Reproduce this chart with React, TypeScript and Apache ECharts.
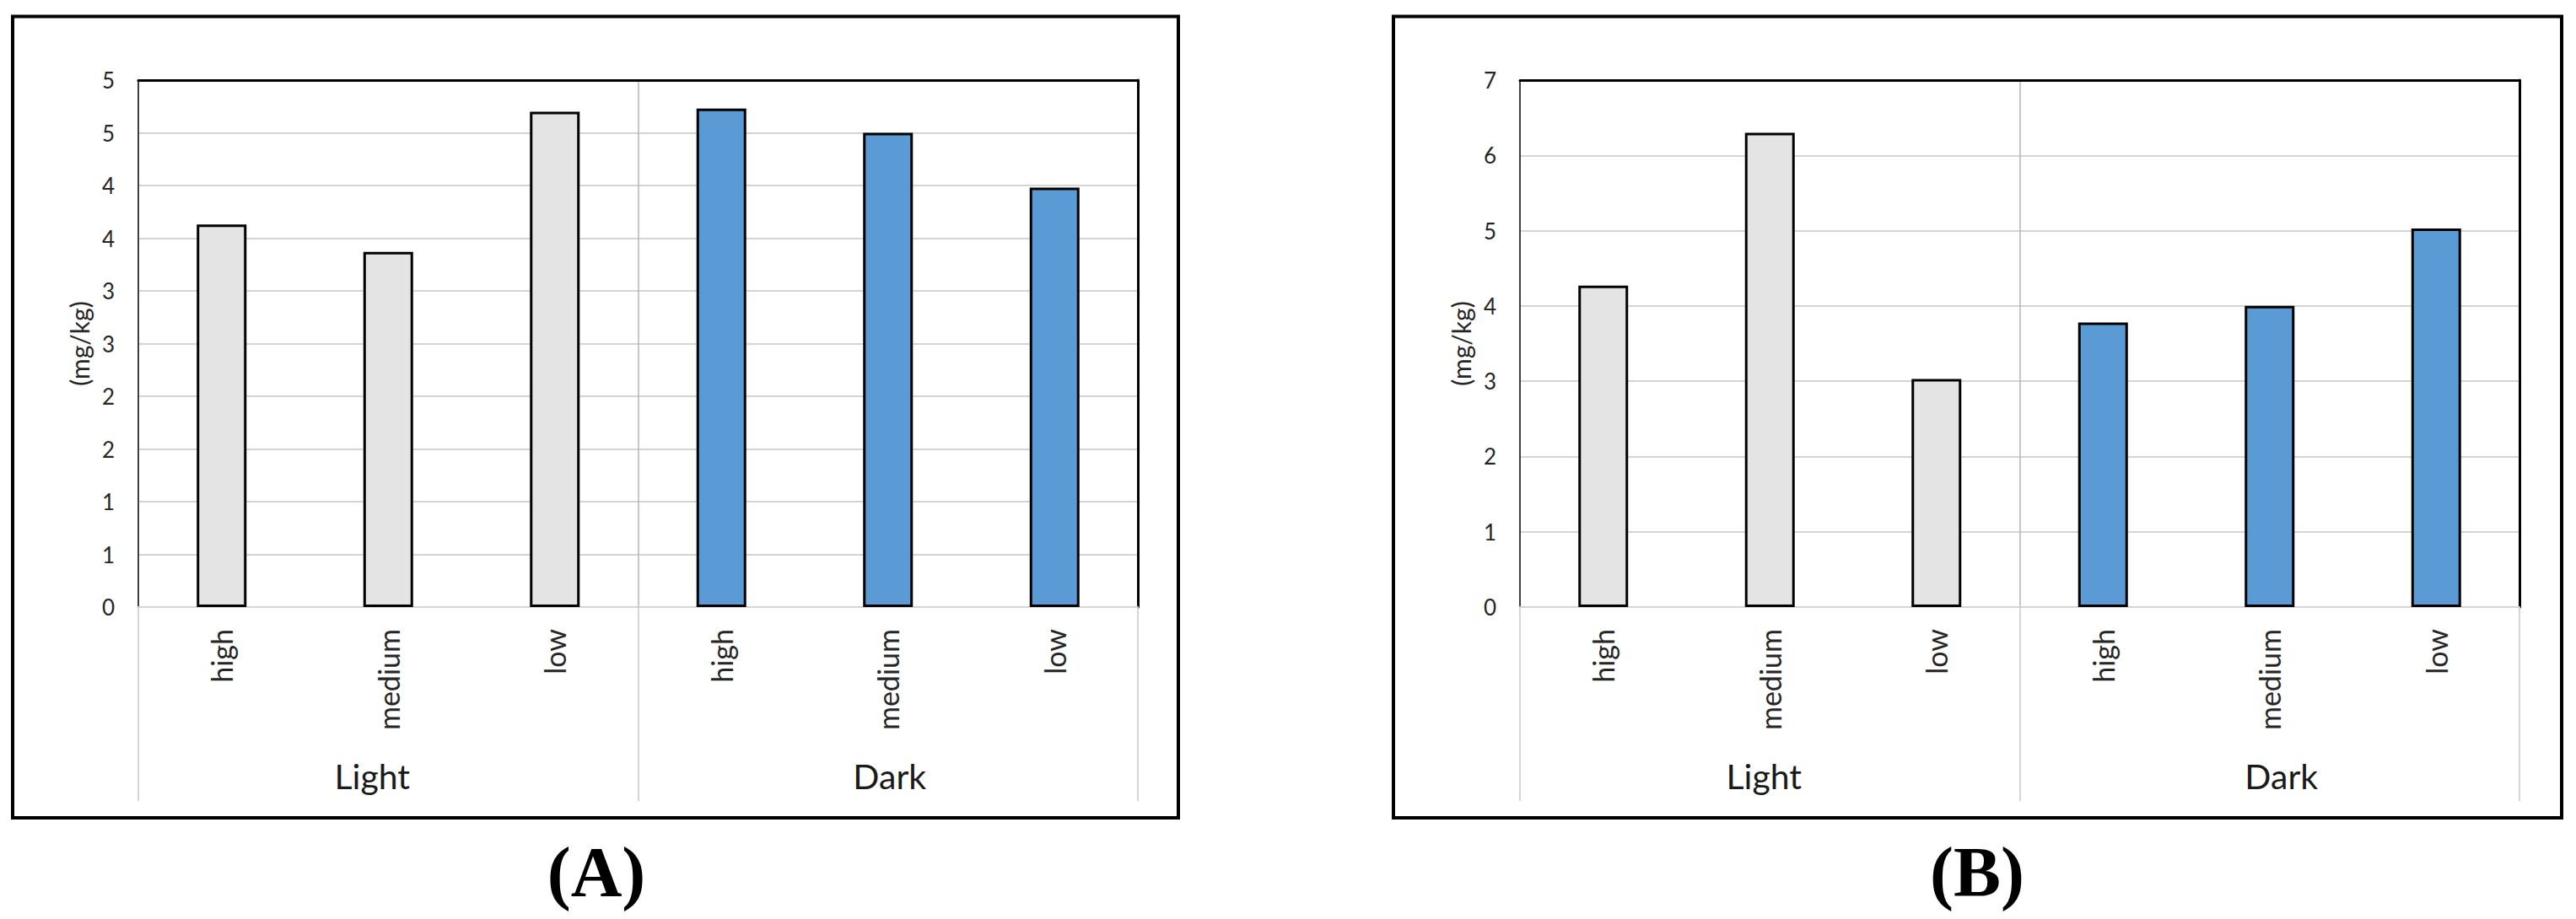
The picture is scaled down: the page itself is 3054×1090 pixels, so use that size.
import React, { useEffect, useRef } from 'react';
import * as echarts from 'echarts';

const categories = ['high', 'medium', 'low', 'high', 'medium', 'low'];
const groups = ['Light', 'Dark'];
const lightA = [3.63, 3.37, 4.7];
const darkA = [4.73, 4.5, 3.98];
const lightB = [4.27, 6.3, 3.03];
const darkB = [3.78, 4.0, 5.03];
const yTicksA = ['0', '1', '1', '2', '2', '3', '3', '4', '4', '5', '5'];
const yTicksB = ['0', '1', '2', '3', '4', '5', '6', '7'];
const yTitle = '(mg/kg)';
const panelLabels = ['(A)', '(B)'];

const FONT = 'Lato';
const TXT = '#262626';

const panels = [
  {
    gridLeft: 164, boxX: 15, boxW: 1382, labelX: 707, max: 5, interval: 0.5, ticks: yTicksA,
    light: lightA, dark: darkA, groupShift: [-19, 2],
  },
  {
    gridLeft: 1802, boxX: 1652, boxW: 1385, labelX: 2344, max: 7, interval: 1, ticks: yTicksB,
    light: lightB, dark: darkB, groupShift: [-7, 14],
  },
];

const GRID_TOP = 95;
const GRID_H = 625;
const GRID_W = 1185;

function buildOption() {
  const grid: any[] = [];
  const xAxis: any[] = [];
  const yAxis: any[] = [];
  const series: any[] = [];
  const graphic: any[] = [];
  const blanks = ['-', '-', '-'];

  panels.forEach((p, i) => {
    grid.push({
      left: p.gridLeft,
      top: GRID_TOP,
      width: GRID_W,
      height: GRID_H,
      containLabel: false,
      outerBoundsMode: 'none',
    });
    // main category axis
    xAxis.push({
      gridIndex: i,
      type: 'category',
      position: 'bottom',
      data: categories,
      axisLine: { show: true, onZero: false, lineStyle: { color: '#d4d4d4', width: 2 } },
      axisTick: { show: false },
      splitLine: { show: false },
      axisLabel: { interval: 0, rotate: 90, margin: 26, fontSize: 34, fontFamily: FONT, color: TXT },
    });
    // group axis
    const rich: any = {};
    p.groupShift.forEach((s, k) => {
      rich['g' + k] = {
        fontSize: 41,
        fontFamily: FONT,
        color: '#1a1a1a',
        padding: s < 0 ? [0, -2 * s, 0, 0] : [0, 0, 0, 2 * s],
      };
    });
    xAxis.push({
      gridIndex: i,
      type: 'category',
      position: 'bottom',
      data: groups,
      axisLine: { show: false, onZero: false },
      axisTick: { show: true, interval: 0, length: 230, lineStyle: { color: '#c8c8c8', width: 1.5 } },
      splitLine: { show: true, interval: 0, lineStyle: { color: '#b4b4b4', width: 1.5 } },
      axisLabel: {
        interval: 0,
        margin: 180,
        fontSize: 41,
        fontFamily: FONT,
        color: '#1a1a1a',
        formatter: (v: string, idx: number) => `{g${idx}|${v}}`,
        rich,
      },
    });
    // top border axis
    xAxis.push({
      gridIndex: i,
      type: 'value',
      position: 'top',
      min: 0,
      max: 1,
      axisLine: { show: true, onZero: false, lineStyle: { color: '#000', width: 3 } },
      axisTick: { show: false },
      axisLabel: { show: false },
      splitLine: { show: false },
    });
    yAxis.push({
      gridIndex: i,
      type: 'value',
      position: 'left',
      min: 0,
      max: p.max,
      interval: p.interval,
      axisLine: { show: true, onZero: false, lineStyle: { color: '#404040', width: 2 } },
      axisTick: { show: false },
      axisLabel: {
        margin: 28,
        fontSize: 26,
        fontFamily: FONT,
        color: TXT,
        formatter: (v: number) => p.ticks[Math.round(v / p.interval)] ?? '',
      },
      splitLine: { show: true, lineStyle: { color: '#d4d4d4', width: 2 } },
      name: yTitle,
      nameLocation: 'middle',
      nameRotate: 90,
      nameGap: 55,
      nameTextStyle: { fontSize: 30, fontFamily: FONT, color: TXT },
    });
    yAxis.push({
      gridIndex: i,
      type: 'value',
      position: 'right',
      min: 0,
      max: p.max,
      interval: p.interval,
      axisLine: { show: true, onZero: false, lineStyle: { color: '#000', width: 3 } },
      axisTick: { show: false },
      axisLabel: { show: false },
      splitLine: { show: false },
    });
    series.push({
      type: 'bar',
      xAxisIndex: 3 * i,
      yAxisIndex: 2 * i,
      data: [...p.light, ...blanks],
      barWidth: 59,
      barGap: '-100%',
      itemStyle: { color: '#e4e4e4', borderColor: '#000', borderWidth: 3 },
    });
    series.push({
      type: 'bar',
      xAxisIndex: 3 * i,
      yAxisIndex: 2 * i,
      data: [...blanks, ...p.dark],
      barWidth: 59,
      barGap: '-100%',
      itemStyle: { color: '#5b9bd5', borderColor: '#000', borderWidth: 3 },
    });
    graphic.push({
      type: 'rect',
      shape: { x: p.boxX, y: 19.5, width: p.boxW, height: 950.5 },
      style: { fill: 'none', stroke: '#000', lineWidth: 4 },
      silent: true,
    });
    graphic.push({
      type: 'text',
      x: p.labelX,
      y: 1034,
      style: {
        text: panelLabels[i],
        fontFamily: 'Liberation Serif',
        fontWeight: 'bold',
        fontSize: 84,
        fill: '#000',
        textAlign: 'center',
        textVerticalAlign: 'middle',
      },
    });
  });

  return {
    animation: false,
    backgroundColor: '#fff',
    grid,
    xAxis,
    yAxis,
    series,
    graphic,
  };
}

export default function App() {
  const ref = useRef<HTMLDivElement>(null);
  useEffect(() => {
    if (!ref.current) return;
    const chart = echarts.init(ref.current, undefined, { renderer: 'svg' });
    chart.setOption(buildOption() as any);
    return () => chart.dispose();
  }, []);
  return (
    <div
      ref={ref}
      style={{ position: 'absolute', left: 0, top: 0, width: 3054, height: 1090, background: '#fff' }}
    />
  );
}
